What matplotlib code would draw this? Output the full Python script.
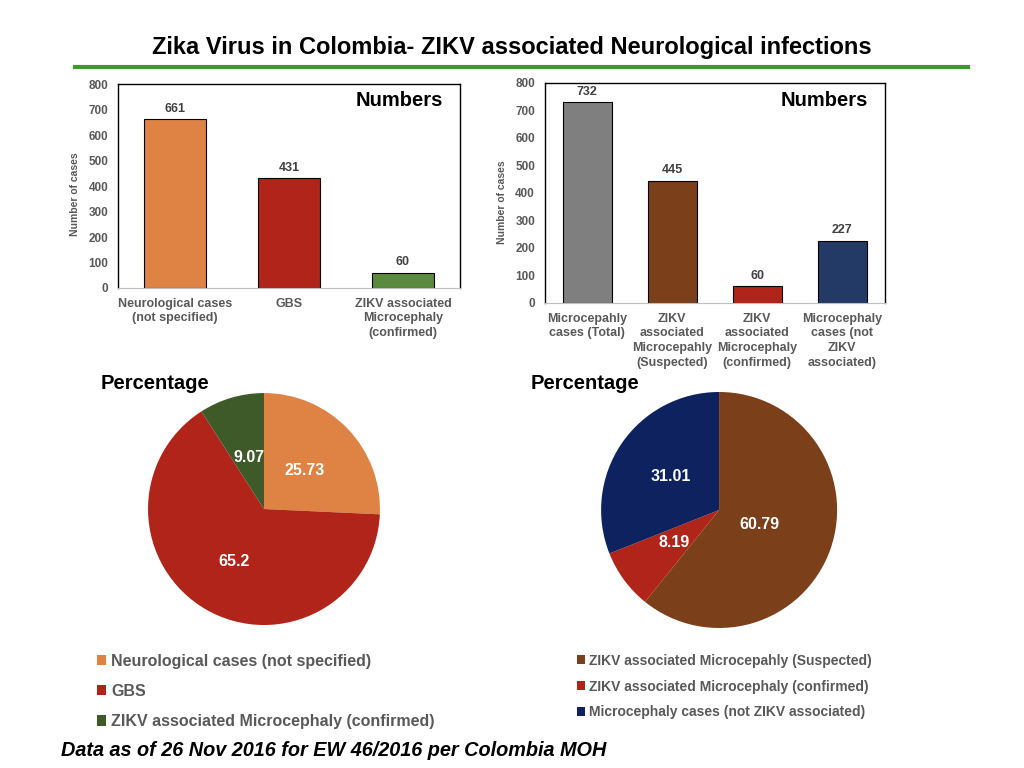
import matplotlib
matplotlib.use('Agg')
import matplotlib.pyplot as plt
import numpy as np

plt.rcParams['font.family'] = ['Liberation Sans', 'DejaVu Sans']

# top-left bar chart
neuro_cats = ["Neurological cases\n(not specified)", "GBS",
              "ZIKV associated\nMicrocephaly\n(confirmed)"]
neuro_counts = [661, 431, 60]
neuro_colors = ['#DE8344', '#B0241A', '#5A8A3C']

# top-right bar chart
micro_cats = ["Microcepahly\ncases (Total)", "ZIKV\nassociated\nMicrocepahly\n(Suspected)",
              "ZIKV\nassociated\nMicrocephaly\n(confirmed)", "Microcephaly\ncases (not\nZIKV\nassociated)"]
micro_counts = [732, 445, 60, 227]
micro_colors = ['#7F7F7F', '#7B3F1A', '#B0241A', '#233A66']

# pies
neuro_pie_names = ["Neurological cases (not specified)", "GBS",
                   "ZIKV associated Microcephaly (confirmed)"]
neuro_pct = [25.73, 65.2, 9.07]
neuro_pie_colors = ['#DE8344', '#B0241A', '#3E5A28']

micro_pie_names = ["ZIKV associated Microcepahly (Suspected)",
                   "ZIKV associated Microcephaly (confirmed)",
                   "Microcephaly cases (not ZIKV associated)"]
micro_pct = [60.79, 8.19, 31.01]
micro_pie_colors = ['#7B3F1A', '#B0241A', '#0E2260']

yticks = np.arange(0, 801, 100)
gray = '#595959'

fig = plt.figure(figsize=(10.24, 7.68), dpi=100)

fig.text(0.5, 0.938, "Zika Virus in Colombia- ZIKV associated Neurological infections",
         ha='center', va='center', fontsize=17, fontweight='bold')
fig.add_artist(plt.Line2D([0.073, 0.945], [0.913, 0.913], color='#3E9A2E', lw=3))


def bar_panel(rect, cats, counts, colors, width, lab_off):
    ax = fig.add_axes(rect)
    x = np.arange(len(cats))
    ax.bar(x, counts, width=width, color=colors, edgecolor='black', linewidth=0.8)
    for xi, v in zip(x, counts):
        ax.text(xi, v + lab_off, str(v), ha='center', va='bottom', fontsize=9,
                fontweight='bold', color='#404040')
    ax.set_xlim(-0.5, len(cats) - 0.5)
    ax.set_ylim(0, 800)
    ax.set_yticks(yticks)
    ax.set_xticks(x)
    ax.set_xticklabels(cats, fontsize=9, fontweight='bold', color=gray, linespacing=1.3)
    ax.tick_params(axis='both', length=0, pad=7, labelcolor=gray)
    for lab in ax.get_yticklabels():
        lab.set_fontweight('bold')
        lab.set_fontsize(8.5)
    ax.set_ylabel("Number of cases", fontsize=7.5, fontweight='bold', color=gray, labelpad=2)
    ax.yaxis.set_label_coords(-0.11, 0.46)
    for s in ['top', 'right', 'left']:
        ax.spines[s].set_color('black')
        ax.spines[s].set_linewidth(1)
    ax.spines['bottom'].set_color('#BFBFBF')
    ax.text(0.95, 0.92, "Numbers", transform=ax.transAxes, ha='right', va='center',
            fontsize=14.5, fontweight='bold')
    return ax


bar_panel([0.1152, 0.625, 0.334, 0.2656], neuro_cats, neuro_counts, neuro_colors, 0.55, 18)
bar_panel([0.532, 0.6055, 0.332, 0.2865], micro_cats, micro_counts, micro_colors, 0.58, 15)

fig.text(0.098, 0.501, "Percentage", fontsize=14.5, fontweight='bold', va='center')
fig.text(0.518, 0.501, "Percentage", fontsize=14.5, fontweight='bold', va='center')


def pie_panel(rect, pct, colors, dists):
    ax = fig.add_axes(rect)
    wedges, texts = ax.pie(pct, colors=colors, startangle=90, counterclock=False,
                           labels=[str(p) for p in pct], labeldistance=0.5,
                           textprops=dict(color='white', fontsize=11.5, fontweight='bold',
                                          ha='center', va='center'))
    for t, d in zip(texts, dists):
        px, py = t.get_position()
        t.set_position((px * d / 0.5, py * d / 0.5))
        t.set_ha('center')
    ax.set_xlim(-1, 1)
    ax.set_ylim(-1, 1)
    ax.set_aspect('equal')
    return wedges


w1 = pie_panel([0.1445, 0.1862, 0.2266, 0.302], neuro_pct, neuro_pie_colors, [0.48, 0.52, 0.46])
w2 = pie_panel([0.587, 0.1823, 0.2305, 0.3073], micro_pct, micro_pie_colors, [0.36, 0.47, 0.5])

leg1 = fig.legend(w1, neuro_pie_names, loc='upper left', bbox_to_anchor=(0.088, 0.157),
                  frameon=False, fontsize=11.5, handlelength=0.6, handleheight=0.6,
                  handletextpad=0.3, labelspacing=0.95, borderaxespad=0)
for t in leg1.get_texts():
    t.set_color(gray)
    t.set_fontweight('bold')

leg2 = fig.legend(w2, micro_pie_names, loc='upper left', bbox_to_anchor=(0.558, 0.156),
                  frameon=False, fontsize=10, handlelength=0.6, handleheight=0.6,
                  handletextpad=0.3, labelspacing=0.85, borderaxespad=0)
for t in leg2.get_texts():
    t.set_color(gray)
    t.set_fontweight('bold')

fig.text(0.06, 0.023, "Data as of 26 Nov 2016 for EW 46/2016 per Colombia MOH",
         fontsize=14.3, fontweight='bold', fontstyle='italic', va='center')

fig.savefig('out.png', dpi=100)
